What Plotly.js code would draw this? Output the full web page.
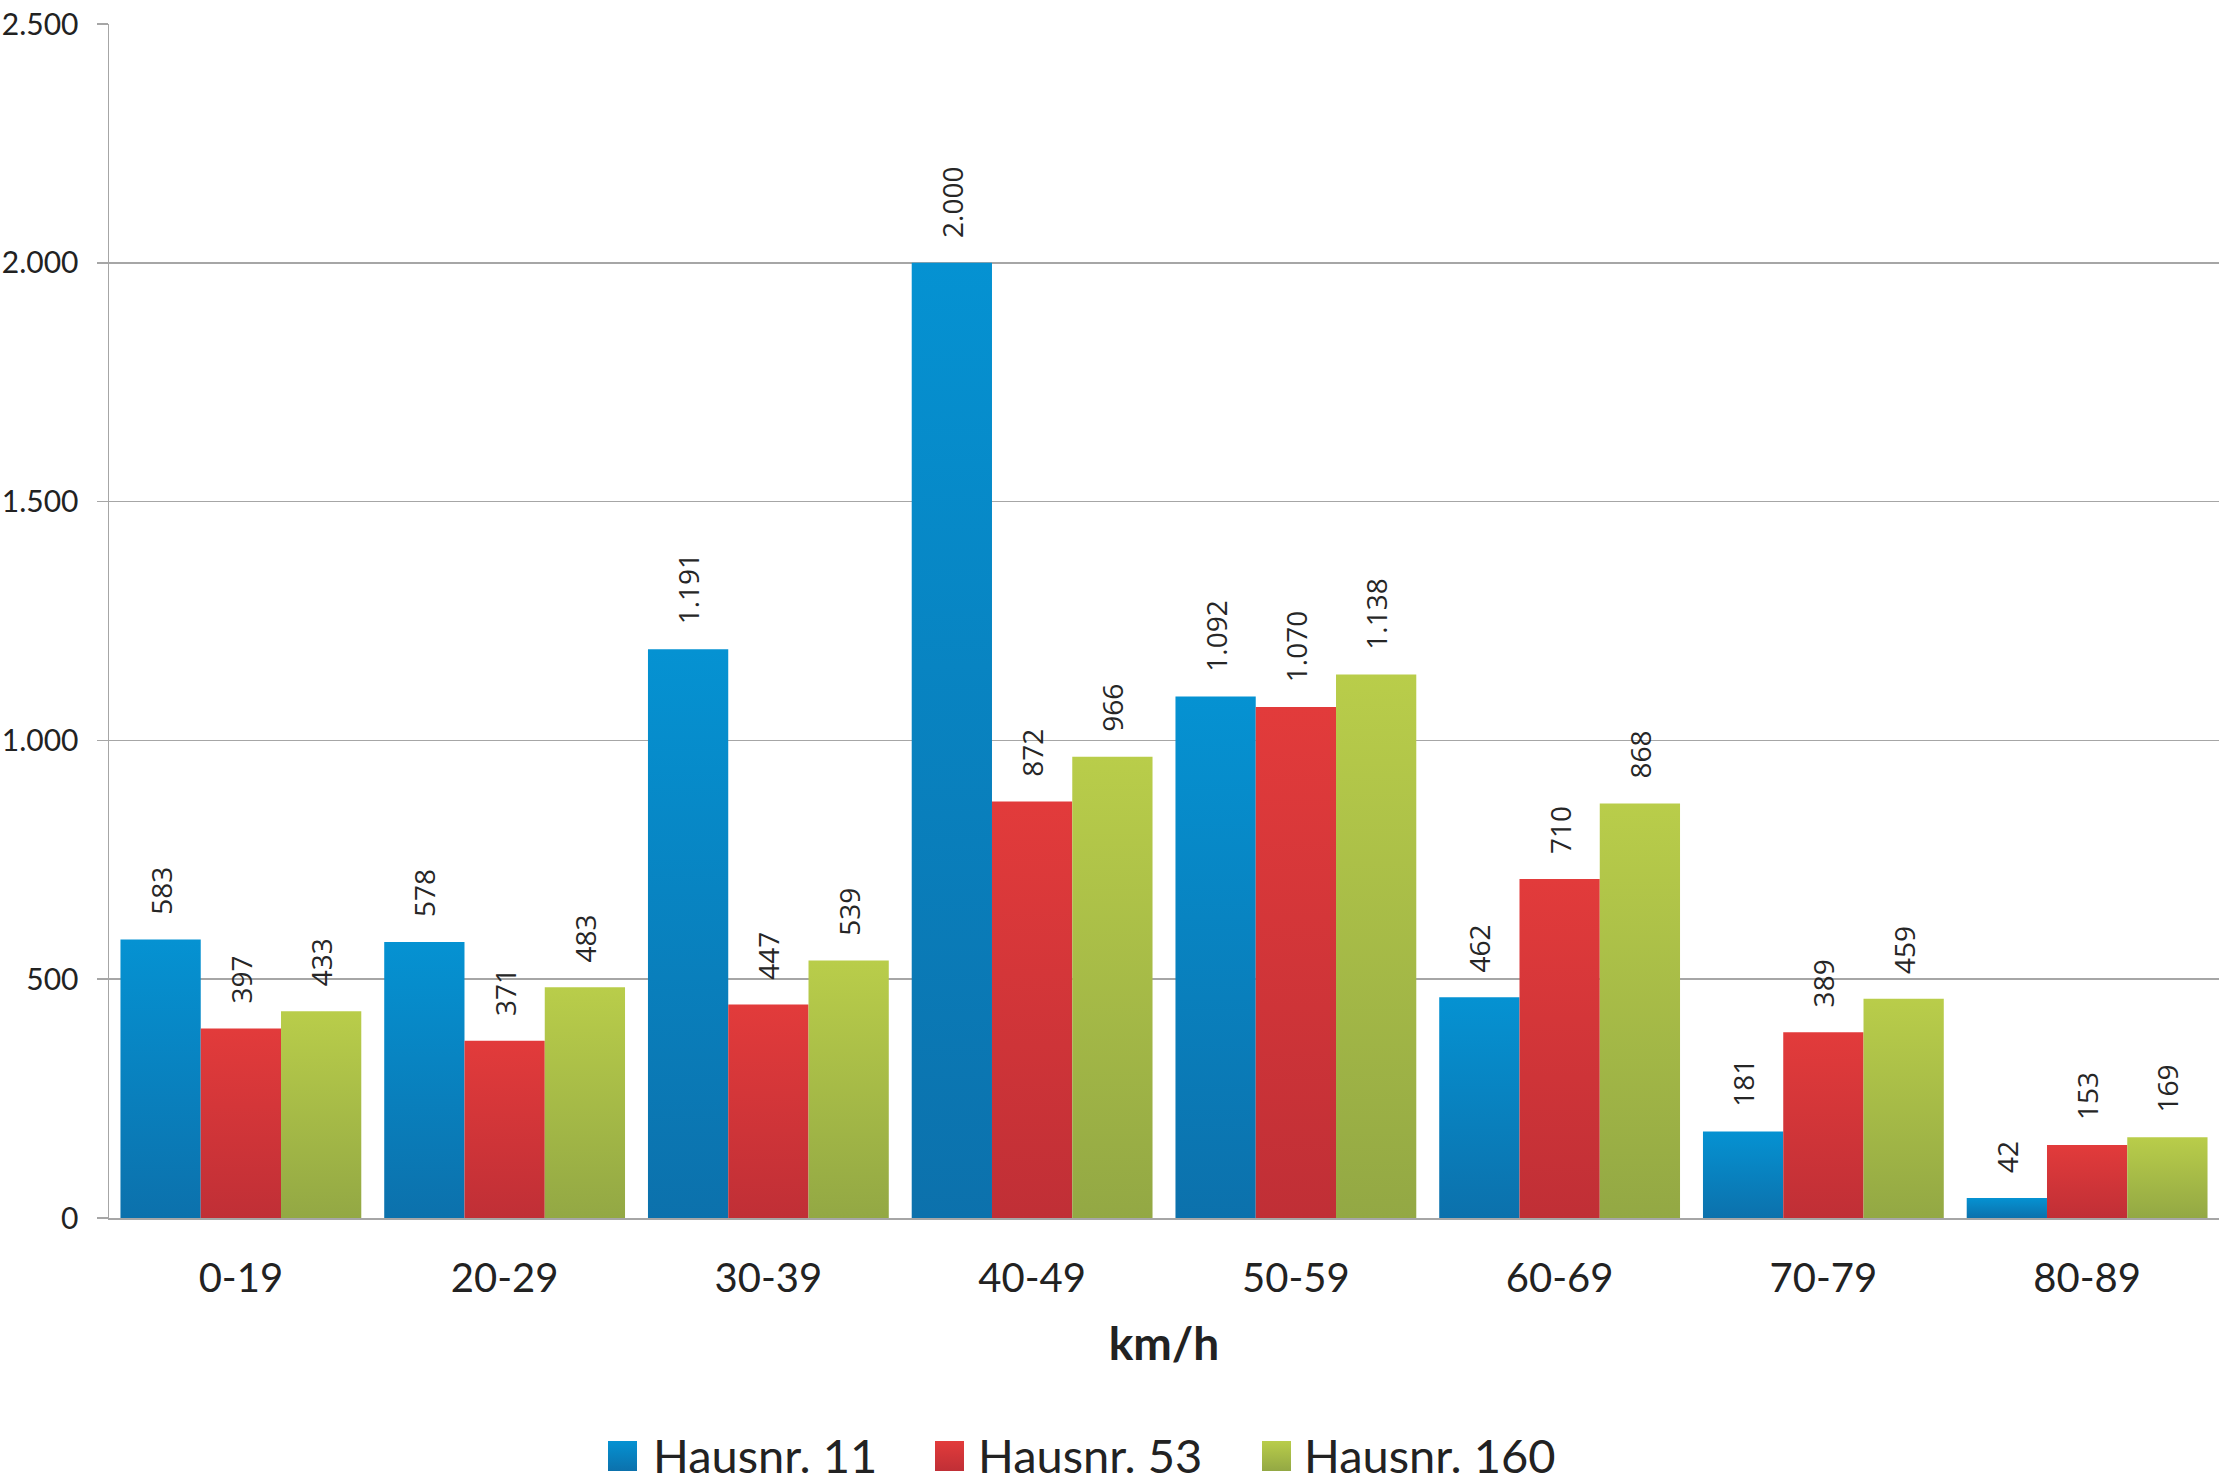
<!DOCTYPE html>
<html>
<head>
<meta charset="utf-8">
<script src="https://cdn.plot.ly/plotly-3.0.1.min.js"></script>
<style>
  html, body { margin: 0; padding: 0; background: #ffffff; }
  #chart { width: 2223px; height: 1483px; }
</style>
</head>
<body>
<div id="chart"></div>
<script>
// ---- data ----
const categories = ["0-19", "20-29", "30-39", "40-49", "50-59", "60-69", "70-79", "80-89"];
const seriesNames = ["Hausnr. 11", "Hausnr. 53", "Hausnr. 160"];
const hausnr11 = [583, 578, 1191, 2000, 1092, 462, 181, 42];
const hausnr53 = [397, 371, 447, 872, 1070, 710, 389, 153];
const hausnr160 = [433, 483, 539, 966, 1138, 868, 459, 169];
const yTickValues = [0, 500, 1000, 1500, 2000, 2500];
const xAxisTitle = "km/h";

// ---- styles ----
const colors = ["#0983c2", "#d33539", "#a8bc47"];
const gradTop = ["#0592d2", "#e23b3b", "#b9cd4a"];
const gradBottom = ["#0c71ac", "#c02f36", "#93a844"];
const seriesValues = [hausnr11, hausnr53, hausnr160];
const pad = "\u00a0\u00a0\u00a0";

// plot-area geometry in pixels (for placing the custom legend)
const M = { l: 109, r: 4, t: 24, b: 265 };
const W = 2223, H = 1483;
const plotW = W - M.l - M.r, plotH = H - M.t - M.b;
const px = v => (v - M.l) / plotW;
const py = v => (H - M.b - v) / plotH;

const traces = seriesValues.map((vals, i) => ({
  type: "bar",
  name: seriesNames[i],
  x: categories,
  y: vals,
  marker: { color: colors[i], line: { width: 0 } },
  texttemplate: pad + "%{y:,d}",
  textposition: "outside",
  textangle: -90,
  constraintext: "none",
  cliponaxis: false,
  textfont: { family: "Open Sans, sans-serif", size: 28, color: "#262626" },
  hoverinfo: "x+y+name"
}));

// custom legend (large square swatches like the original)
const legendSwatchX = [608, 935, 1262];
const legendTextX = [652, 977, 1303];
const shapes = seriesNames.map((n, i) => ({
  type: "rect",
  xref: "paper", yref: "paper",
  x0: px(legendSwatchX[i]), x1: px(legendSwatchX[i] + 29),
  y0: py(1471), y1: py(1441),
  fillcolor: colors[i],
  line: { width: 0 },
  layer: "above"
}));
const annotations = seriesNames.map((n, i) => ({
  text: n,
  xref: "paper", yref: "paper",
  x: px(legendTextX[i]), y: py(1455),
  xanchor: "left", yanchor: "middle",
  showarrow: false,
  borderpad: 0,
  font: { family: "Lato, sans-serif", size: 47, color: "#222222" }
}));

const layout = {
  width: W,
  height: H,
  margin: M,
  paper_bgcolor: "#ffffff",
  plot_bgcolor: "#ffffff",
  separators: ",.",
  barmode: "group",
  bargap: 0.087,
  bargroupgap: 0,
  showlegend: false,
  shapes: shapes,
  annotations: annotations,
  xaxis: {
    type: "category",
    showline: true,
    linecolor: "#a6a6a6",
    linewidth: 2,
    ticks: "",
    showgrid: false,
    zeroline: false,
    tickfont: { family: "Lato, sans-serif", size: 40, color: "#222222" },
    ticklabelstandoff: 24,
    automargin: true,
    title: {
      text: xAxisTitle,
      font: { family: "Lato, sans-serif", size: 46, color: "#222222", weight: "bold" },
      standoff: 28
    }
  },
  yaxis: {
    range: [0, 2500],
    tickvals: yTickValues,
    tickformat: ",d",
    showgrid: true,
    gridcolor: "#a6a6a6",
    gridwidth: 1.5,
    zeroline: false,
    showline: true,
    linecolor: "#a6a6a6",
    linewidth: 1.5,
    ticks: "outside",
    ticklen: 11,
    tickwidth: 1.5,
    tickcolor: "#a6a6a6",
    ticklabelstandoff: 12,
    tickfont: { family: "Lato, sans-serif", size: 30, color: "#222222" },
    automargin: false
  }
};

Plotly.newPlot("chart", traces, layout, { displayModeBar: false, staticPlot: true }).then(gd => {
  // vertical gradient fills (light top, dark bottom) as in the original
  const NS = "http://www.w3.org/2000/svg";
  const svg = gd.querySelector(".main-svg");
  const defs = document.createElementNS(NS, "defs");
  colors.forEach((c, i) => {
    const g = document.createElementNS(NS, "linearGradient");
    g.setAttribute("id", "barGrad" + i);
    g.setAttribute("x1", "0"); g.setAttribute("y1", "0");
    g.setAttribute("x2", "0"); g.setAttribute("y2", "1");
    [[0, gradTop[i]], [1, gradBottom[i]]].forEach(([o, col]) => {
      const s = document.createElementNS(NS, "stop");
      s.setAttribute("offset", o);
      s.setAttribute("stop-color", col);
      g.appendChild(s);
    });
    defs.appendChild(g);
  });
  svg.insertBefore(defs, svg.firstChild);
  gd.querySelectorAll(".barlayer .trace").forEach((tr, i) => {
    tr.querySelectorAll(".point path").forEach(p => { p.style.fill = "url(#barGrad" + i + ")"; });
  });
  gd.querySelectorAll(".shapelayer path").forEach((p, i) => {
    if (i < colors.length) p.style.fill = "url(#barGrad" + i + ")";
  });
});
</script>
</body>
</html>
